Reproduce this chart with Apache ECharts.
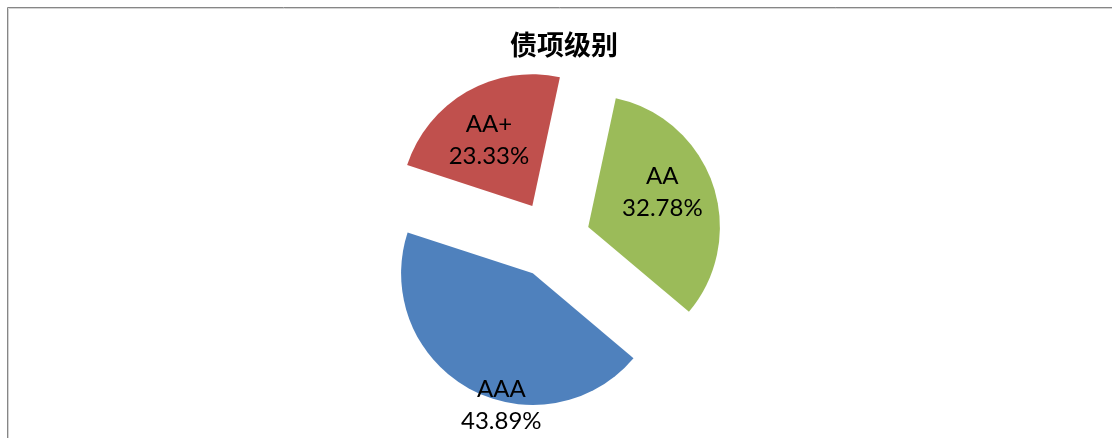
<!DOCTYPE html>
<html>
<head>
<meta charset="utf-8">
<script src="https://cdn.jsdelivr.net/npm/echarts@6/dist/echarts.min.js"></script>
<style>
html,body{margin:0;padding:0;background:#fff;}
#chart{width:1112px;height:438px;}
</style>
</head>
<body>
<div id="chart"></div>
<script>
const title = '债项级别';
const categories = ['AAA', 'AA+', 'AA'];
const values = [43.89, 23.33, 32.78];
const colors = ['#4F81BD', '#C0504D', '#9BBB59'];
// label nudges [dx, dy] from default inside position
const labelShift = [[2, 72], [-9, -6], [9, -12]];

const chart = echarts.init(document.getElementById('chart'), null, {renderer: 'canvas'});
const data = categories.map((c, i) => ({
  name: c,
  value: values[i],
  selected: true,
  itemStyle: {color: colors[i]},
  select: {itemStyle: {color: colors[i]}}
}));
chart.setOption({
  animation: false,
  backgroundColor: '#fff',
  title: {
    text: title,
    left: 559,
    top: 26,
    textAlign: 'center',
    textStyle: {fontFamily: 'Noto Sans CJK SC', fontSize: 27, fontWeight: 'bold', color: '#000'}
  },
  graphic: [
    {type: 'line', shape: {x1: 7.5, y1: 7.5, x2: 1112, y2: 7.5}, style: {stroke: '#868686', lineWidth: 1}},
    {type: 'line', shape: {x1: 7.5, y1: 7.5, x2: 7.5, y2: 438}, style: {stroke: '#868686', lineWidth: 1}},
    {type: 'line', shape: {x1: 8.5, y1: 8.5, x2: 1112, y2: 8.5}, style: {stroke: '#d4d4d4', lineWidth: 1}},
    {type: 'line', shape: {x1: 8.5, y1: 8.5, x2: 8.5, y2: 438}, style: {stroke: '#d4d4d4', lineWidth: 1}}
  ],
  series: [{
    type: 'pie',
    center: [551.6, 239.5],
    radius: 131.7,
    startAngle: -40.1,
    clockwise: true,
    selectedMode: 'multiple',
    selectedOffset: 38.7,
    avoidLabelOverlap: false,
    silent: true,
    itemStyle: {borderWidth: 0},
    label: {
      show: true,
      position: 'inside',
      formatter: '{b}\n{c}%',
      fontFamily: 'Lato',
      fontSize: 24,
      lineHeight: 32,
      color: '#000'
    },
    labelLine: {show: false},
    labelLayout: function (params) {
      const s = labelShift[params.dataIndex];
      return {dx: s[0], dy: s[1]};
    },
    emphasis: {disabled: true},
    data: data
  }]
});
</script>
</body>
</html>
